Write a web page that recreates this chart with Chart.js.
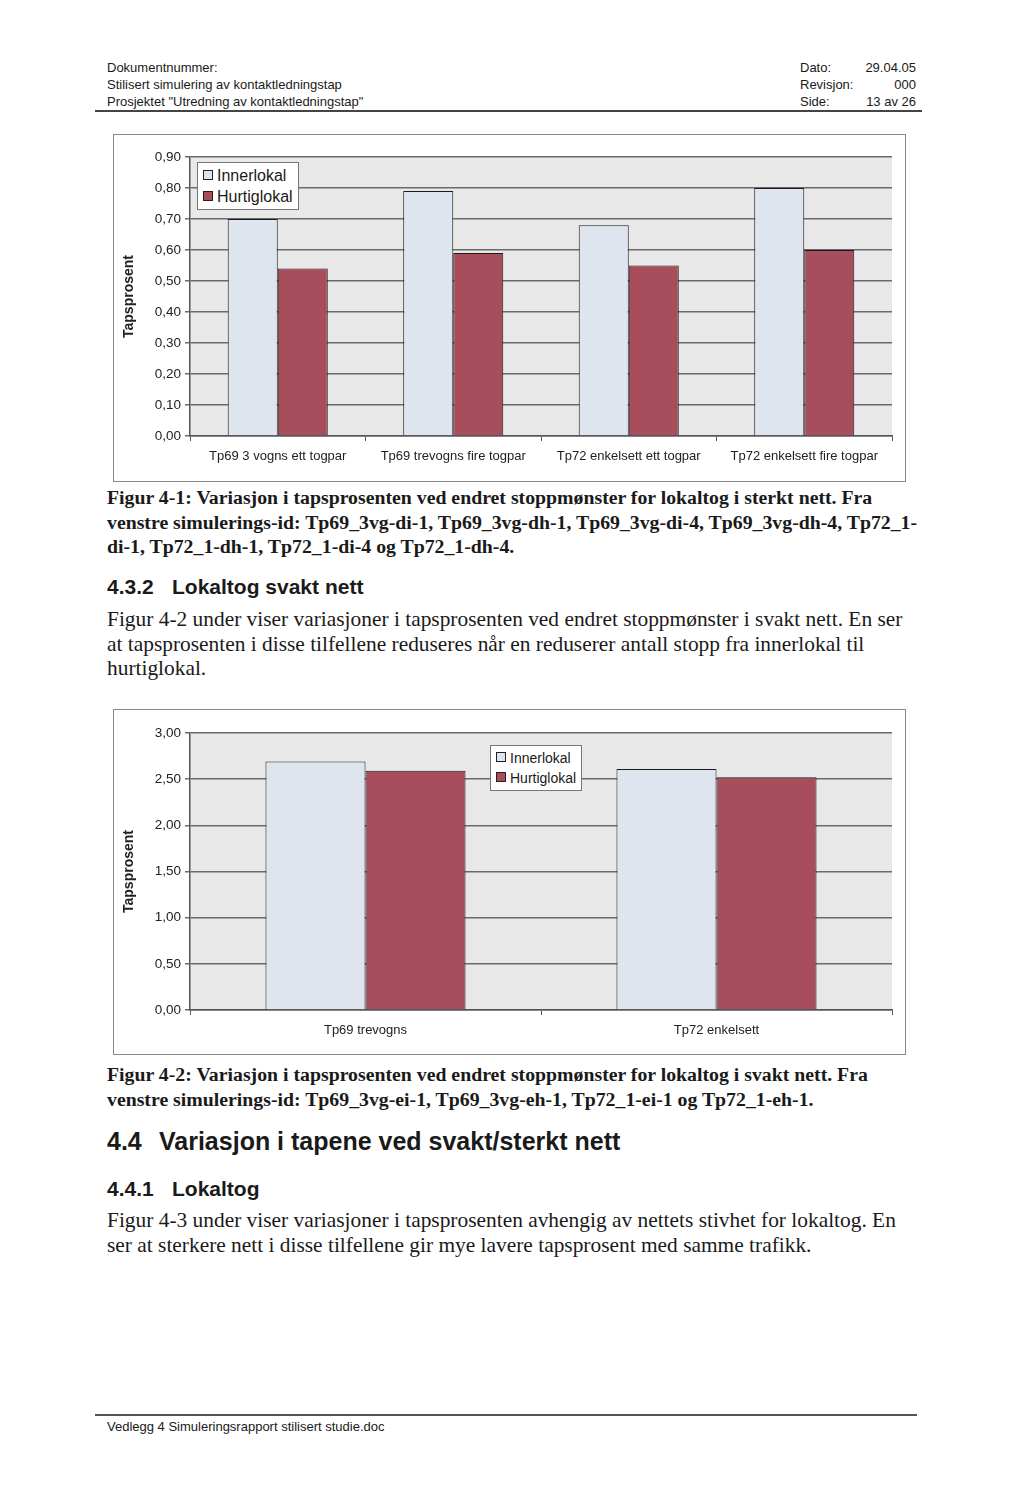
<!DOCTYPE html>
<html lang="no">
<head>
<meta charset="utf-8">
<title>Simuleringsrapport side 13</title>
<script src="https://cdn.jsdelivr.net/npm/chart.js@4.4.1/dist/chart.umd.min.js"></script>
<style>
  body { margin: 0; background: #fff; width: 1024px; height: 1490px; position: relative; overflow: hidden; color: #1a1a1a; }
  .abs { position: absolute; white-space: nowrap; }
  .sans { font-family: "Liberation Sans", Arial, sans-serif; }
  .serif { font-family: "Liberation Serif", "Times New Roman", serif; }
  .hdr { font-size: 13px; line-height: 17px; }
  .cap { font-size: 19.8px; line-height: 24.5px; font-weight: bold; }
  .txt { font-size: 21.4px; line-height: 24.5px; }
  .box { position: absolute; border: 1px solid #8a8a8a; background: #fff; }
  .legend { position: absolute; background: #fff; border: 1px solid #777; font-family: "Liberation Sans", Arial, sans-serif; padding: 2px 5px 2px 5px; }
  .legend span.sw { display: inline-block; width: 8px; height: 8px; border: 1px solid #222; margin-right: 4px; vertical-align: 1px; }
</style>
</head>
<body>

<div class="abs sans hdr" style="left:107px; top:59px;">Dokumentnummer:<br>Stilisert simulering av kontaktledningstap<br>Prosjektet "Utredning av kontaktledningstap"</div>
<div class="abs sans hdr" style="left:800px; top:59px;">Dato:<br>Revisjon:<br>Side:</div>
<div class="abs sans hdr" style="left:840px; top:59px; width:76px; text-align:right;">29.04.05<br>000<br>13 av 26</div>
<div class="abs" style="left:95px; top:110px; width:827px; height:2px; background:#444;"></div>

<div class="box" style="left:113px; top:134px; width:791px; height:346px;">
  <canvas id="chart1"></canvas>
  <div class="legend" id="legend1" style="left:83px; top:27px; font-size:16px; line-height:21px;"></div>
</div>

<div class="abs serif cap" style="left:107px; top:485px;">Figur 4-1: Variasjon i tapsprosenten ved endret stoppmønster for lokaltog i sterkt nett. Fra<br>venstre simulerings-id: Tp69_3vg-di-1, Tp69_3vg-dh-1, Tp69_3vg-di-4, Tp69_3vg-dh-4, Tp72_1-<br>di-1, Tp72_1-dh-1, Tp72_1-di-4 og Tp72_1-dh-4.</div>

<div class="abs sans" style="left:107px; top:575px; font-size:21px; font-weight:bold;">4.3.2<span style="position:absolute; left:65px;">Lokaltog svakt nett</span></div>

<div class="abs serif txt" style="left:107px; top:607px;">Figur 4-2 under viser variasjoner i tapsprosenten ved endret stoppmønster i svakt nett. En ser<br>at tapsprosenten i disse tilfellene reduseres når en reduserer antall stopp fra innerlokal til<br>hurtiglokal.</div>

<div class="box" style="left:113px; top:709px; width:791px; height:344px;">
  <canvas id="chart2"></canvas>
  <div class="legend" id="legend2" style="left:376px; top:35px; font-size:14px; line-height:20px;"></div>
</div>

<div class="abs serif cap" style="left:107px; top:1062px;">Figur 4-2: Variasjon i tapsprosenten ved endret stoppmønster for lokaltog i svakt nett. Fra<br>venstre simulerings-id: Tp69_3vg-ei-1, Tp69_3vg-eh-1, Tp72_1-ei-1 og Tp72_1-eh-1.</div>

<div class="abs sans" style="left:107px; top:1127px; font-size:25px; font-weight:bold;">4.4<span style="position:absolute; left:52px;">Variasjon i tapene ved svakt/sterkt nett</span></div>

<div class="abs sans" style="left:107px; top:1177px; font-size:21px; font-weight:bold;">4.4.1<span style="position:absolute; left:65px;">Lokaltog</span></div>

<div class="abs serif txt" style="left:107px; top:1208px;">Figur 4-3 under viser variasjoner i tapsprosenten avhengig av nettets stivhet for lokaltog. En<br>ser at sterkere nett i disse tilfellene gir mye lavere tapsprosent med samme trafikk.</div>

<div class="abs" style="left:95px; top:1414px; width:822px; height:1.5px; background:#555;"></div>
<div class="abs sans" style="left:107px; top:1419px; font-size:13px;">Vedlegg 4 Simuleringsrapport stilisert studie.doc</div>

<script>
const seriesNames = ['Innerlokal', 'Hurtiglokal'];
const seriesColors = ['#dfe5ef', '#a84d5c'];

// Figur 4-1 (sterkt nett)
const categories1 = ['Tp69 3 vogns ett togpar', 'Tp69 trevogns fire togpar', 'Tp72 enkelsett ett togpar', 'Tp72 enkelsett fire togpar'];
const innerlokal1 = [0.70, 0.79, 0.68, 0.80];
const hurtiglokal1 = [0.54, 0.59, 0.55, 0.60];
const yTicks1 = ['0,00', '0,10', '0,20', '0,30', '0,40', '0,50', '0,60', '0,70', '0,80', '0,90'];

// Figur 4-2 (svakt nett)
const categories2 = ['Tp69 trevogns', 'Tp72 enkelsett'];
const innerlokal2 = [2.69, 2.61];
const hurtiglokal2 = [2.59, 2.52];
const yTicks2 = ['0,00', '0,50', '1,00', '1,50', '2,00', '2,50', '3,00'];

const plotBackground = {
  id: 'plotBackground',
  beforeDraw(chart) {
    const a = chart.chartArea;
    const ctx = chart.ctx;
    ctx.save();
    ctx.fillStyle = '#e8e8e8';
    ctx.fillRect(a.left, a.top, a.right - a.left, a.bottom - a.top);
    ctx.restore();
  }
};

function lagGraf(id, legendId, labels, inner, hurtig, tickLabels, step, xHeight, padTop) {
  const canvas = document.getElementById(id);
  const box = canvas.parentElement;
  canvas.width = box.clientWidth;
  canvas.height = box.clientHeight;
  const series = [inner, hurtig];
  // @ts-ignore
  new Chart(canvas, {
    type: 'bar',
    data: {
      labels: labels,
      datasets: series.map((d, i) => ({
        label: seriesNames[i],
        data: d,
        backgroundColor: seriesColors[i],
        borderColor: '#1a1a1a',
        borderWidth: 1,
        borderSkipped: 'bottom',
        categoryPercentage: 0.57,
        barPercentage: 1.0,
      })),
    },
    options: {
      responsive: false,
      animation: false,
      devicePixelRatio: 1,
      layout: { padding: { top: padTop, right: 13, left: 7, bottom: 0 } },
      plugins: {
        legend: { display: false },
        tooltip: { enabled: false },
      },
      scales: {
        x: {
          grid: { drawOnChartArea: false, drawTicks: true, tickLength: 5, color: '#555', offset: true },
          border: { color: '#555', width: 1.5 },
          ticks: { font: { family: 'Liberation Sans', size: 13 }, color: '#222', maxRotation: 0, padding: 8 },
          afterFit: (s) => { s.height = xHeight; },
        },
        y: {
          min: 0,
          max: step * (tickLabels.length - 1),
          ticks: {
            stepSize: step,
            font: { family: 'Liberation Sans', size: 13.5 },
            color: '#222',
            padding: 4,
            callback: (v, i) => tickLabels[i],
          },
          grid: { color: '#6a6a6a', lineWidth: 1.5, tickLength: 5 },
          border: { color: '#555', width: 1.5 },
          title: { display: true, text: 'Tapsprosent', font: { family: 'Liberation Sans', size: 14, weight: 'bold' }, color: '#222', padding: 0 },
          afterFit: (s) => { s.width = 69; },
        },
      },
    },
    plugins: [plotBackground],
  });
  const legend = document.getElementById(legendId);
  legend.innerHTML = seriesNames.map((n, i) =>
    '<div><span class="sw" style="background:' + seriesColors[i] + '"></span>' + n + '</div>').join('');
}

lagGraf('chart1', 'legend1', categories1, innerlokal1, hurtiglokal1, yTicks1, 0.1, 45, 22);
lagGraf('chart2', 'legend2', categories2, innerlokal2, hurtiglokal2, yTicks2, 0.5, 44, 23);
</script>
</body>
</html>
